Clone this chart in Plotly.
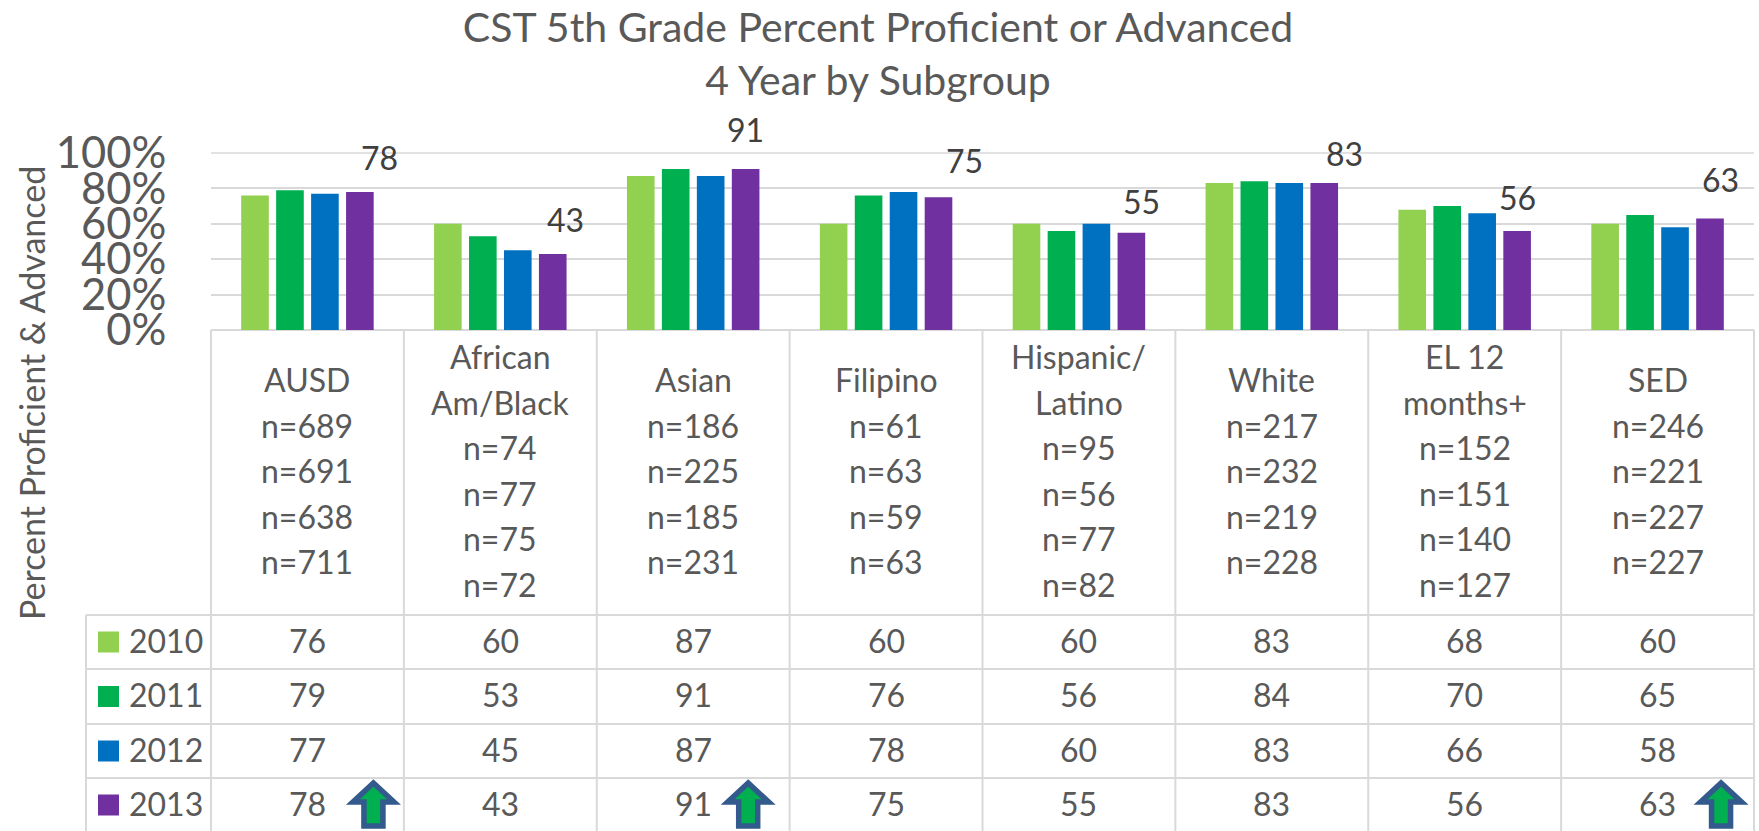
import plotly.graph_objects as go

W, H = 1759, 831
FONT = "Lato"
GREY = "#595959"
DARK = "#404040"
LINE = "#D9D9D9"

title_lines = ["CST 5th Grade Percent Proficient or Advanced", "4 Year by Subgroup"]
y_title = "Percent Proficient & Advanced"
years = ["2010", "2011", "2012", "2013"]
colors = ["#92D050", "#00B050", "#0070C0", "#7030A0"]
tick_vals = [0, 20, 40, 60, 80, 100]
tick_text = ["0%", "20%", "40%", "60%", "80%", "100%"]

cat_labels = [
    ["AUSD"], ["African", "Am/Black"], ["Asian"], ["Filipino"],
    ["Hispanic/", "Latino"], ["White"], ["EL 12", "months+"], ["SED"],
]
n_2010 = [689, 74, 186, 61, 95, 217, 152, 246]
n_2011 = [691, 77, 225, 63, 56, 232, 151, 221]
n_2012 = [638, 75, 185, 59, 77, 219, 140, 227]
n_2013 = [711, 72, 231, 63, 82, 228, 127, 227]

v_2010 = [76, 60, 87, 60, 60, 83, 68, 60]
v_2011 = [79, 53, 91, 76, 56, 84, 70, 65]
v_2012 = [77, 45, 87, 78, 60, 83, 66, 58]
v_2013 = [78, 43, 91, 75, 55, 83, 56, 63]
arrow_cats = [0, 2, 7]

values = [v_2010, v_2011, v_2012, v_2013]
ns = [n_2010, n_2011, n_2012, n_2013]
xs = list(range(len(cat_labels)))

# layout geometry (pixels in the page)
L, R, T0, Y0 = 211, 1754, 153, 330
TBL_L = 86
ROWS = [615, 669, 724, 778, 832]
CW = (R - L) / len(xs)
# hand-placed offsets of the 2013 data labels and arrows, as in the reference
LABEL_DX = [72, 65, 52, 78, 63, 73, 53, 63]
LABEL_DY = [34, 34, 39, 37, 31, 30, 33, 39]
ARROW_DX = {0: 66, 2: 55, 7: 63.5}


def px(x):
    return x / W


def py(y):
    return 1 - y / H


def cx(i):
    return L + CW * (i + 0.5)


fig = go.Figure()
for yr, col, v in zip(years, colors, values):
    fig.add_bar(x=xs, y=v, name=yr, marker=dict(color=col, line=dict(width=0)))

shapes = []
ann = []


def line(x0, y0, x1, y1, w=2):
    shapes.append(dict(type="line", xref="paper", yref="paper", x0=px(x0), x1=px(x1),
                       y0=py(y0), y1=py(y1), line=dict(color=LINE, width=w), layer="below"))


def text(x, y, s, size=32, anchor="center", angle=0):
    ann.append(dict(xref="paper", yref="paper", x=px(x), y=py(y), text=s, showarrow=False,
                    xanchor=anchor, yanchor="middle", textangle=angle,
                    font=dict(family=FONT, size=size, color=GREY)))


# table rules
line(L, T0, R, T0, 1.5)
line(L, Y0, R, Y0)
for i in range(len(xs) + 1):
    line(L + CW * i, Y0, L + CW * i, H)
line(TBL_L, ROWS[0], TBL_L, H)
for y in ROWS[:-1]:
    line(TBL_L, y, R, y)

# category / n block
LS = 45.5
MID = 470.5
for i in xs:
    rows = cat_labels[i] + [f"n={n[i]}" for n in ns]
    start = MID - LS * (len(rows) - 1) / 2
    for k, s in enumerate(rows):
        text(cx(i), start + k * LS, s)

# data rows with legend keys
for r, (yr, col, v) in enumerate(zip(years, colors, values)):
    yc = (ROWS[r] + ROWS[r + 1]) / 2
    shapes.append(dict(type="rect", xref="paper", yref="paper", x0=px(98), x1=px(119),
                       y0=py(yc - 10.5), y1=py(yc + 10.5), fillcolor=col, line=dict(width=0)))
    text(127, yc - 2, yr, anchor="left")
    for i in xs:
        text(cx(i), yc - 2, str(v[i]))

# data labels for the last series
for i in xs:
    ann.append(dict(xref="x", yref="y", x=i, y=v_2013[i], text=str(v_2013[i]), showarrow=False,
                    xanchor="center", yanchor="middle", xshift=LABEL_DX[i], yshift=LABEL_DY[i],
                    font=dict(family=FONT, size=32, color=DARK)))

# up arrows
for i in arrow_cats:
    c = cx(i) + ARROW_DX[i]
    pts = [(c, 783), (c + 20.5, 802), (c + 9.5, 802), (c + 9.5, 826), (c - 9.5, 826), (c - 9.5, 802), (c - 20.5, 802)]
    path = "M " + " L ".join(f"{px(a):.5f},{py(b):.5f}" for a, b in pts) + " Z"
    shapes.append(dict(type="path", xref="paper", yref="paper", path=path, fillcolor="#00B050",
                       line=dict(color="#335A8C", width=5.5), layer="above"))

text(31, 393, y_title, size=34, angle=-90)

fig.update_layout(
    width=W, height=H, margin=dict(l=0, r=0, t=0, b=0),
    paper_bgcolor="white", plot_bgcolor="white", showlegend=False,
    barmode="group", bargap=0.275, bargroupgap=0.21,
    title=dict(text="<br>".join(title_lines), x=878 / W, xanchor="center", y=1 - 42 / H, yanchor="top",
               automargin=False, font=dict(family=FONT, size=41, color=GREY)),
    xaxis=dict(domain=[px(L), px(R)], range=[-0.5, 7.5], showticklabels=False, showgrid=False,
               zeroline=False, ticks="", automargin=False),
    yaxis=dict(domain=[py(Y0), py(T0)], range=[0, 100], tickvals=tick_vals, ticktext=tick_text,
               showgrid=True, gridcolor=LINE, gridwidth=1.5, zeroline=False, ticks="outside",
               ticklen=35, tickcolor="rgba(0,0,0,0)", automargin=False,
               tickfont=dict(family=FONT, size=43.5, color=GREY)),
    shapes=shapes, annotations=ann,
)
fig.write_html("out.html", config={"displayModeBar": False},
               post_script="document.body.style.margin='0';document.documentElement.style.overflow='hidden';")
